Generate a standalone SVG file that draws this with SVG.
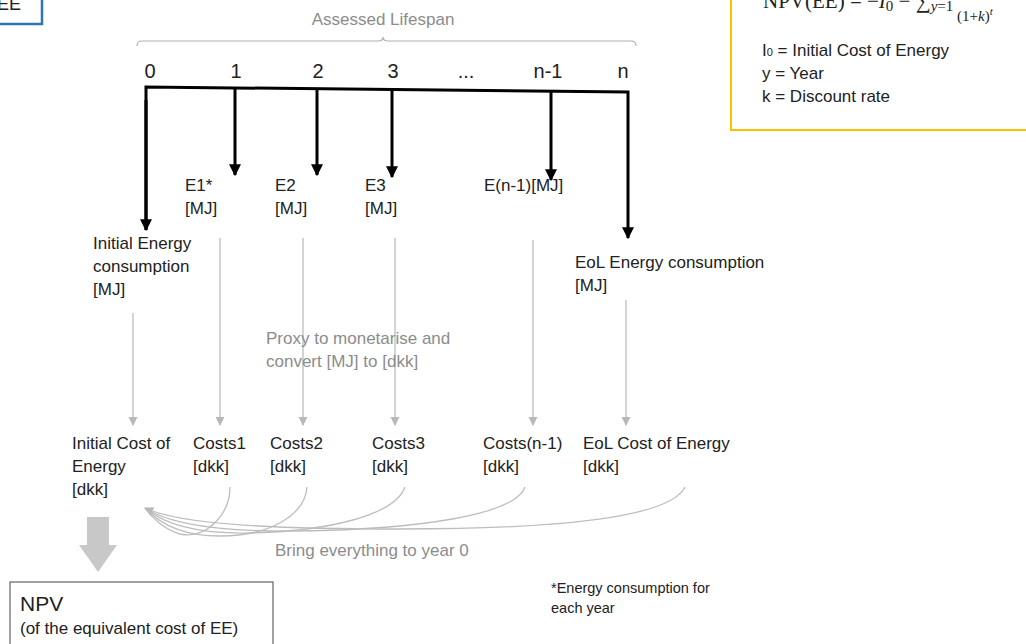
<svg xmlns="http://www.w3.org/2000/svg" width="1026" height="644" viewBox="0 0 1026 644">
<defs>
<style>
text{font-family:"Liberation Sans","Open Sans",sans-serif;fill:#222;font-size:17px}
.g{fill:#8c8c8c}
.num{font-size:20px}
.blk{stroke:#000;stroke-width:3;fill:none}
.gl{stroke:#bdbdbd;stroke-width:1.3;fill:none}
.math{font-family:"Liberation Serif","DejaVu Serif",serif}
</style>
<marker id="ab" viewBox="0 0 10 10" refX="9" refY="5" markerWidth="4" markerHeight="4" orient="auto" markerUnits="strokeWidth"><path d="M0,0 L10,5 L0,10 z" fill="#000"/></marker>
<marker id="ag" viewBox="0 0 10 10" refX="9" refY="5" markerWidth="7" markerHeight="7" orient="auto" markerUnits="strokeWidth"><path d="M0,0 L10,5 L0,10 z" fill="#b8b8b8"/></marker>
</defs>
<rect width="1026" height="644" fill="#fff"/>

<g id="ee-box">
<rect x="-5" y="-5" width="47" height="29" fill="#fff" stroke="#2E75B6" stroke-width="2.5"/>
<text x="-3" y="10" style="font-size:18px">EE</text>
</g>

<g id="formula-box">
<rect x="731" y="-5" width="310" height="135" fill="#fff" stroke="#FFC000" stroke-width="2"/>
<text class="math" x="763" y="8" style="font-size:21px">NPV(EE) = −<tspan font-style="italic">I</tspan><tspan font-size="15" dy="3">0</tspan><tspan dy="-3"> − ∑</tspan><tspan font-size="15" font-style="italic" dy="3">y</tspan><tspan font-size="15">=1</tspan></text>
<text class="math" x="957" y="21" style="font-size:15px">(1+<tspan font-style="italic">k</tspan>)<tspan font-size="11" font-style="italic" dy="-6">t</tspan></text>
<text x="762" y="56">I<tspan font-size="11">0</tspan> = Initial Cost of Energy</text>
<text x="762" y="79">y = Year</text>
<text x="762" y="102">k = Discount rate</text>
</g>

<g id="lifespan">
<text class="g" x="383" y="25" text-anchor="middle">Assessed Lifespan</text>
<path d="M137,46 Q137,41 142,41 L378,41 Q383,41 383,37 Q383,41 388,41 L631,41 Q636,41 636,46" stroke="#b0b0b0" stroke-width="1.2" fill="none"/>
</g>

<g id="year-labels">
<text class="num" x="150" y="78" text-anchor="middle">0</text>
<text class="num" x="236" y="78" text-anchor="middle">1</text>
<text class="num" x="318" y="78" text-anchor="middle">2</text>
<text class="num" x="393" y="78" text-anchor="middle">3</text>
<text class="num" x="466" y="78" text-anchor="middle">...</text>
<text class="num" x="548" y="78" text-anchor="middle">n-1</text>
<text class="num" x="623" y="78" text-anchor="middle">n</text>
</g>

<g id="connectors">
<path class="blk" d="M146,230 L146,87 L628,92 L628,238" marker-end="url(#ab)"/>
<path class="blk" d="M146,100 L146,230" marker-end="url(#ab)"/>
<path class="blk" d="M235,88 L235,175" marker-end="url(#ab)"/>
<path class="blk" d="M317,89 L317,175" marker-end="url(#ab)"/>
<path class="blk" d="M392,90 L392,177" marker-end="url(#ab)"/>
<path class="blk" d="M551,91 L551,180" marker-end="url(#ab)"/>

<path class="gl" d="M133,313 V425" marker-end="url(#ag)"/>
<path class="gl" d="M220,238 V425" marker-end="url(#ag)"/>
<path class="gl" d="M303,238 V425" marker-end="url(#ag)"/>
<path class="gl" d="M395,238 V425" marker-end="url(#ag)"/>
<path class="gl" d="M533,240 V425" marker-end="url(#ag)"/>
<path class="gl" d="M626,300 V425" marker-end="url(#ag)"/>

<path class="gl" d="M230,487 C230,515 205,540 180,534 C165,530 152,518 145,508"/>
<path class="gl" d="M307,487 C305,515 270,536 220,536 C180,536 158,522 145,508"/>
<path class="gl" d="M405,487 C395,515 330,531 250,533 C200,534 165,525 145,508"/>
<path class="gl" d="M525,487 C515,515 420,529 300,531 C220,532 170,525 145,508"/>
<path class="gl" d="M685,487 C670,518 560,529 400,529 C280,529 180,525 145,508" marker-end="url(#ag)"/>
</g>

<g id="energy-labels">
<text x="185" y="191">E1*</text><text x="185" y="214">[MJ]</text>
<text x="275" y="191">E2</text><text x="275" y="214">[MJ]</text>
<text x="365" y="191">E3</text><text x="365" y="214">[MJ]</text>
<text x="484" y="191">E(n-1)[MJ]</text>
<text x="93" y="249">Initial Energy</text><text x="93" y="272">consumption</text><text x="93" y="295">[MJ]</text>
<text x="575" y="268">EoL Energy consumption</text><text x="575" y="291">[MJ]</text>
</g>

<g id="proxy-label">
<text class="g" x="266" y="344">Proxy to monetarise and</text>
<text class="g" x="266" y="367">convert [MJ] to [dkk]</text>
</g>

<g id="cost-labels">
<text x="72" y="449">Initial Cost of</text><text x="72" y="472">Energy</text><text x="72" y="495">[dkk]</text>
<text x="193" y="449">Costs1</text><text x="193" y="472">[dkk]</text>
<text x="270" y="449">Costs2</text><text x="270" y="472">[dkk]</text>
<text x="372" y="449">Costs3</text><text x="372" y="472">[dkk]</text>
<text x="483" y="449">Costs(n-1)</text><text x="483" y="472">[dkk]</text>
<text x="583" y="449">EoL Cost of Energy</text><text x="583" y="472">[dkk]</text>
</g>

<g id="bring-label">
<text class="g" x="275" y="556">Bring everything to year 0</text>
</g>

<g id="big-arrow">
<path d="M87,517 H109 V545 H117 L98,572 L79,545 H87 Z" fill="#c8c8c8"/>
</g>

<g id="npv-box">
<rect x="10" y="582" width="263" height="70" fill="#fff" stroke="#444" stroke-width="1"/>
<text x="20" y="611" style="font-size:21px">NPV</text>
<text x="20" y="634">(of the equivalent cost of EE)</text>
</g>

<g id="footnote">
<text x="551" y="593" style="font-size:14.5px">*Energy consumption for</text>
<text x="551" y="613" style="font-size:14.5px">each year</text>
</g>
</svg>
